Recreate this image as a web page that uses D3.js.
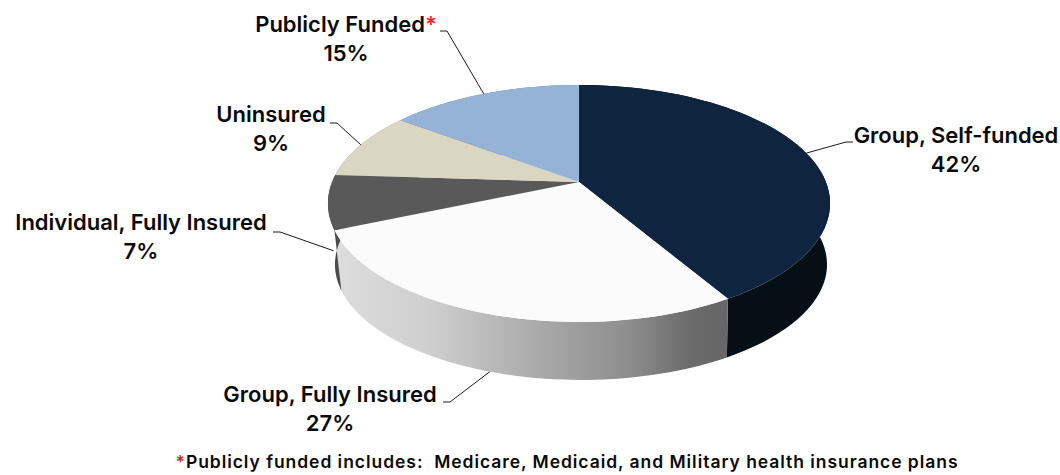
<!DOCTYPE html>
<html>
<head>
<meta charset="utf-8">
<script src="https://cdn.jsdelivr.net/npm/d3@7"></script>
<style>
  html, body { margin: 0; padding: 0; background: #fff; }
  text { font-family: Inter, "Open Sans", sans-serif; font-weight: 600; fill: #0a0a0a; }
  .star { fill: #ff2020; }
</style>
</head>
<body>
<div id="chart"></div>
<script>
// shares (printed labels are these rounded)
const categories = ["Group, Self-funded", "Group, Fully Insured", "Individual, Fully Insured", "Uninsured", "Publicly Funded"];
const shares = [41.5, 27.1, 7.4, 9.2, 14.8];
const topColors = ["#0f243e", "#fbfbfb", "#595959", "#d9d6c2", "#95b3d7"];
const sideColors = ["#060e16", "url(#sideGrad)", "#4a4a4a", "#8f8c7c", "#627690"];
const footnote = "Publicly funded includes:  Medicare, Medicaid, and Military health insurance plans";

var svgWidth = 1060;
var svgHeight = 475;

// perspective of the disc: apex, radii and how much the front comes closer
var cx = 579, cy = 182, radX = 246.9, radY = 114.6, tilt = -0.181;
// lower rim sits further down, a bit narrower and slightly to the right
var rimX = 581, rimY = 243.5, rimScale = 0.98, rimScaleY = 0.975;

// label layout: centre x, first baseline, stub start/end x and y
var labelLayout = [
    {x: 956, y: 143, stubA: 853, stubB: 846, stubY: 142, depth: 0},
    {x: 330, y: 402, stubA: 443, stubB: 450, stubY: 402, depth: 1},
    {x: 141, y: 230, stubA: 273, stubB: 280, stubY: 232, depth: 0.8},
    {x: 271, y: 122, stubA: 330, stubB: 337, stubY: 123, depth: 0},
    {x: 346, y: 32, stubA: 440, stubB: 447, stubY: 31, depth: 0}
];

var svg = d3.select("#chart")
    .append("svg")
    .attr("width", svgWidth)
    .attr("height", svgHeight)
    .style("display", "block");

var grad = svg.append("defs").append("linearGradient")
    .attr("id", "sideGrad")
    .attr("gradientUnits", "userSpaceOnUse")
    .attr("x1", 340).attr("x2", 725).attr("y1", 0).attr("y2", 0);
grad.append("stop").attr("offset", "0%").attr("stop-color", "#dcdcdc");
grad.append("stop").attr("offset", "23%").attr("stop-color", "#cfcfcf");
grad.append("stop").attr("offset", "49%").attr("stop-color", "#adadad");
grad.append("stop").attr("offset", "76%").attr("stop-color", "#8c8c8c");
grad.append("stop").attr("offset", "91%").attr("stop-color", "#6b6b6b");
grad.append("stop").attr("offset", "100%").attr("stop-color", "#666666");

var pie = d3.pie().sort(null).value(d => d);
var slices = pie(shares);

function topPoint(a) {
    var u = Math.sin(a), v = -Math.cos(a), w = 1 + tilt * v;
    return [cx + radX * u / w, cy + radY * v / w];
}
function rimPoint(a) {
    var u = Math.sin(a), v = -Math.cos(a), w = 1 + tilt * v;
    return [rimX + rimScale * radX * u / w, rimY + rimScaleY * radY * v / w];
}
// walk along the edge in small angle steps
function arcAngles(a0, a1) {
    return d3.range(0, 61).map(i => a0 + (a1 - a0) * i / 60);
}

var line = d3.line();

// side walls first, tops paint over whatever should be hidden
svg.append("g").selectAll("path")
    .data(slices)
    .enter()
    .append("path")
    .attr("fill", (d, i) => sideColors[i])
    .attr("d", d => {
        var up = arcAngles(d.startAngle, d.endAngle).map(topPoint);
        var down = arcAngles(d.endAngle, d.startAngle).map(rimPoint);
        return line(up.concat(down)) + "Z";
    });

svg.append("g").selectAll("path")
    .data(slices)
    .enter()
    .append("path")
    .attr("fill", (d, i) => topColors[i])
    .attr("d", d => {
        var edge = arcAngles(d.startAngle, d.endAngle).map(topPoint);
        return line([[cx, cy]].concat(edge)) + "Z";
    });

// leader lines go from the middle of each slice's edge to the label stub
svg.append("g").selectAll("path")
    .data(slices)
    .enter()
    .append("path")
    .attr("fill", "none")
    .attr("stroke", "#1a1a1a")
    .attr("stroke-width", 1)
    .attr("d", (d, i) => {
        var l = labelLayout[i];
        var mid = (d.startAngle + d.endAngle) / 2;
        var a = topPoint(mid), b = rimPoint(mid);
        var p = [a[0] + (b[0] - a[0]) * l.depth, a[1] + (b[1] - a[1]) * l.depth];
        return line([p, [l.stubB, l.stubY], [l.stubA, l.stubY]]);
    });

var labels = svg.append("g").selectAll("text")
    .data(slices)
    .enter()
    .append("text")
    .attr("text-anchor", "middle")
    .attr("font-size", 22);

labels.append("tspan")
    .attr("x", (d, i) => labelLayout[i].x)
    .attr("y", (d, i) => labelLayout[i].y)
    .text((d, i) => categories[i]);
labels.filter((d, i) => i == 4).append("tspan")
    .attr("class", "star")
    .text("*");
labels.append("tspan")
    .attr("x", (d, i) => labelLayout[i].x)
    .attr("y", (d, i) => labelLayout[i].y + 29)
    .text(d => d3.format(".0f")(d.value) + "%");

var note = svg.append("text")
    .attr("x", 567)
    .attr("y", 468)
    .attr("text-anchor", "middle")
    .attr("font-size", 17.5)
    .attr("letter-spacing", 0.95)
    .attr("xml:space", "preserve")
    .style("white-space", "pre");
note.append("tspan").attr("class", "star").text("*");
note.append("tspan").text(footnote);
</script>
</body>
</html>
